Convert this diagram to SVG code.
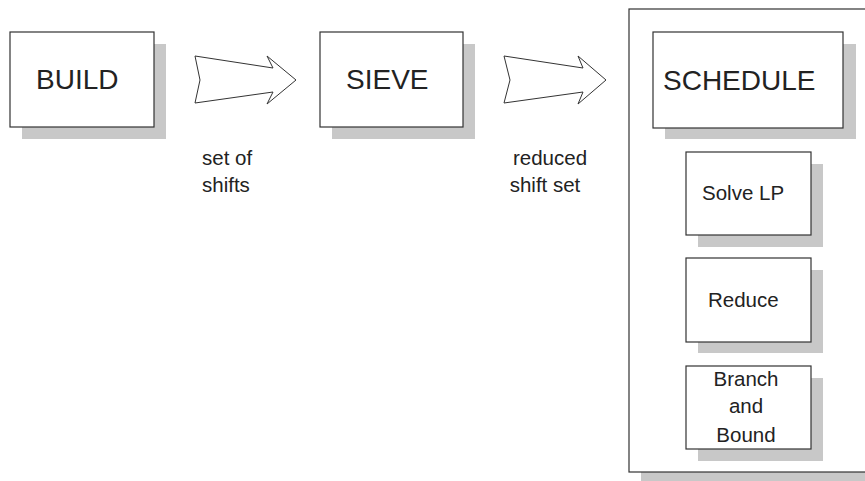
<svg xmlns="http://www.w3.org/2000/svg" width="865" height="481" viewBox="0 0 865 481">
<style>
.box{fill:#fff;stroke:#333;stroke-width:1.2}
.sh{fill:#c8c8c8}
.big{font-family:"Liberation Sans",Arial,sans-serif;font-size:28px;fill:#222}
.sm{font-family:"Liberation Sans",Arial,sans-serif;font-size:20.5px;fill:#222}
.arr{fill:#fff;stroke:#333;stroke-width:1}
</style>
<rect width="865" height="481" fill="#fff"/>
<g id="schedule-container">
<rect class="sh" x="641" y="21" width="230" height="465"/>
<rect class="box" x="629" y="9" width="240" height="463"/>
</g>
<g id="build">
<rect class="sh" x="22" y="44" width="144" height="95"/>
<rect class="box" x="10" y="32" width="144" height="95"/>
<text class="big" x="36" y="89">BUILD</text>
</g>
<g id="sieve">
<rect class="sh" x="332" y="44" width="143" height="95"/>
<rect class="box" x="320" y="32" width="143" height="95"/>
<text class="big" x="346" y="89">SIEVE</text>
</g>
<g id="schedule">
<rect class="sh" x="665" y="44" width="191" height="95"/>
<rect class="box" x="653" y="32" width="190" height="96"/>
<text class="big" x="663" y="90">SCHEDULE</text>
</g>
<g id="solve-lp">
<rect class="sh" x="698" y="164" width="125" height="83"/>
<rect class="box" x="686" y="152" width="125" height="83"/>
<text class="sm" x="702" y="200">Solve LP</text>
</g>
<g id="reduce">
<rect class="sh" x="698" y="270" width="125" height="83"/>
<rect class="box" x="686" y="258" width="125" height="84"/>
<text class="sm" x="708" y="307">Reduce</text>
</g>
<g id="branch-and-bound">
<rect class="sh" x="698" y="378" width="125" height="83"/>
<rect class="box" x="686" y="366" width="125" height="83"/>
<text class="sm" x="746" y="386" text-anchor="middle">Branch</text>
<text class="sm" x="746" y="413" text-anchor="middle">and</text>
<text class="sm" x="746" y="442" text-anchor="middle">Bound</text>
</g>
<g id="connectors">
<path class="arr" d="M195,56 L273,68 L267,56 L296,80 L267,104 L273,92 L195,103 L200,80 Z"/>
<text class="sm" x="202" y="165">set of</text>
<text class="sm" x="202" y="192">shifts</text>
<path class="arr" d="M504,56 L583,68 L578,56 L606,80 L578,104 L583,92 L504,103 L510,80 Z"/>
<text class="sm" x="550" y="165" text-anchor="middle">reduced</text>
<text class="sm" x="545" y="192" text-anchor="middle">shift set</text>
</g>
</svg>
